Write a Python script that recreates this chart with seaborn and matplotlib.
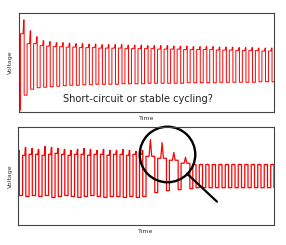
import numpy as np
import pandas as pd
import matplotlib
matplotlib.use("Agg")
import matplotlib.pyplot as plt
import seaborn as sns

# %% Data (normalised voltage levels read per cycle)
# top panel: 39 cycles, slowly decaying
top_start_level = 0.02
top_high = [0.79, 0.69, 0.69, 0.67, 0.665, 0.66, 0.66, 0.655, 0.655, 0.65,
            0.65, 0.65, 0.645, 0.645, 0.645, 0.645, 0.64, 0.64, 0.64, 0.64,
            0.64, 0.635, 0.635, 0.635, 0.635, 0.63, 0.63, 0.63, 0.63, 0.63,
            0.625, 0.625, 0.625, 0.62, 0.62, 0.62, 0.62, 0.615, 0.615]
top_peak = [0.93, 0.82, 0.76, 0.72, 0.71, 0.70, 0.70, 0.695, 0.69, 0.69,
            0.685, 0.685, 0.68, 0.68, 0.68, 0.68, 0.675, 0.675, 0.675, 0.67,
            0.67, 0.67, 0.67, 0.665, 0.665, 0.665, 0.66, 0.66, 0.66, 0.66,
            0.655, 0.655, 0.655, 0.65, 0.65, 0.65, 0.645, 0.645, 0.645]
top_low = [0.17, 0.23, 0.245, 0.25, 0.255, 0.26, 0.265, 0.27, 0.27, 0.275,
           0.275, 0.28, 0.28, 0.28, 0.28, 0.285, 0.285, 0.285, 0.285, 0.29,
           0.29, 0.29, 0.29, 0.29, 0.29, 0.295, 0.295, 0.295, 0.295, 0.295,
           0.30, 0.30, 0.30, 0.30, 0.30, 0.30, 0.305, 0.305, 0.305]

# bottom panel, part 1: noisy stable cycling (20 cycles)
bot1_high = [0.73, 0.71, 0.72, 0.72, 0.71, 0.72, 0.73, 0.72, 0.71, 0.72,
             0.72, 0.71, 0.72, 0.72, 0.71, 0.72, 0.72, 0.71, 0.72, 0.72]
bot1_peak = [0.76, 0.79, 0.78, 0.77, 0.80, 0.79, 0.78, 0.77, 0.76, 0.77,
             0.78, 0.77, 0.76, 0.77, 0.76, 0.76, 0.77, 0.76, 0.75, 0.76]
bot1_low = [0.30, 0.29, 0.30, 0.29, 0.30, 0.28, 0.29, 0.30, 0.29, 0.28,
            0.29, 0.30, 0.29, 0.28, 0.29, 0.29, 0.28, 0.29, 0.28, 0.29]
# part 2: voltage spikes (soft short onset)
bot2_high = [0.70, 0.68, 0.66, 0.63]
bot2_peak = [0.87, 0.84, 0.74, 0.69]
bot2_low = [0.33, 0.35, 0.36, 0.37]
bot2_dur = [1.8, 1.8, 1.8, 1.8]
# part 3: flat square wave after short circuit
bot3_high = [0.615] * 13
bot3_peak = [0.62] * 13
bot3_low = [0.38] * 13


def build_trace(high, peak, low, durations, duty, pk, t_start=0.0):
    t, v = [], []
    t0 = t_start
    for i in range(len(high)):
        d = durations[i]
        hd = duty * d
        after = high[i] if pk < 0.85 else peak[i]
        t += [t0, t0 + max(pk - 0.15, 0) * hd, t0 + pk * hd,
              t0 + min(pk + 0.15, 1) * hd, t0 + hd, t0 + hd, t0 + d]
        v += [high[i], high[i], peak[i], after, after, low[i], low[i]]
        t0 += d
    return t, v, t0


# %% Build traces
t_top, v_top, _ = build_trace(top_high, top_peak, top_low,
                              [1.0] * len(top_high), 0.55, 0.85)
t_top = [-0.3, 0.0] + t_top
v_top = [top_start_level, top_start_level] + v_top
df_top = pd.DataFrame({"Time": t_top, "Voltage": v_top})

t1, v1, end1 = build_trace(bot1_high, bot1_peak, bot1_low,
                           [1.0] * len(bot1_high), 0.5, 0.85)
t2, v2, end2 = build_trace(bot2_high, bot2_peak, bot2_low,
                           bot2_dur, 0.75, 0.5, end1)
t3, v3, _ = build_trace(bot3_high, bot3_peak, bot3_low,
                        [1.0] * len(bot3_high), 0.5, 0.5, end2)
df_bot = pd.DataFrame({"Time": t1 + t2 + t3, "Voltage": v1 + v2 + v3})

# %% Plot
sns.set_theme(style="white")
plt.rcParams['font.family'] = ['DejaVu Sans']

fig = plt.figure(figsize=(2.86, 2.45), dpi=100)
ax1 = fig.add_axes([0.066, 0.543, 0.892, 0.404])
ax2 = fig.add_axes([0.063, 0.082, 0.895, 0.400])

sns.lineplot(data=df_top, x="Time", y="Voltage", estimator=None, sort=False,
             color="#ff0000", lw=0.7, ax=ax1)
sns.lineplot(data=df_bot, x="Time", y="Voltage", estimator=None, sort=False,
             color="#ff0000", lw=0.9, ax=ax2)

ax1.set_xlim(-0.26, 38.85)
ax2.set_xlim(0.3, 39.7)
for ax in (ax1, ax2):
    ax.set_ylim(0, 1)
    ax.set_xticks([])
    ax.set_yticks([])
    ax.set_xlabel("Time", fontsize=4.5, color="#333333", labelpad=3)
    ax.set_ylabel("Voltage", fontsize=4.5, color="#333333", labelpad=4)
    for s in ax.spines.values():
        s.set_color("#444444")
        s.set_linewidth(0.8)

ax1.text(0.467, 0.13, "Short-circuit or stable cycling?", transform=ax1.transAxes,
         ha="center", va="center", fontsize=7.1, color="#222222")

# magnifying glass over the spikes
ax2.plot([0.582], [0.724], marker="o", markersize=40, mfc="none", mec="black",
         mew=1.7, transform=ax2.transAxes, clip_on=False)
ax2.plot([0.66, 0.777], [0.523, 0.238], color="black", lw=1.6,
         transform=ax2.transAxes, clip_on=False)

fig.savefig("out.png", dpi=100)
